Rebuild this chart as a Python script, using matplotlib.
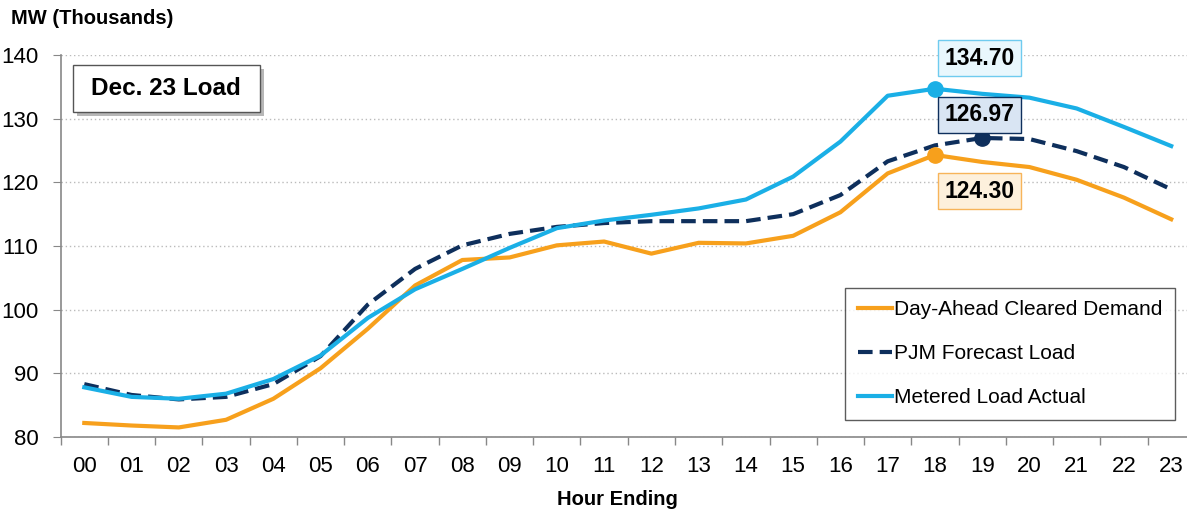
import matplotlib.pyplot as plt
import matplotlib.patheffects as pe
from matplotlib.patches import Rectangle
import numpy as np

plt.rcParams['font.family'] = ['Liberation Sans', 'DejaVu Sans']

hours = ['00', '01', '02', '03', '04', '05', '06', '07', '08', '09', '10', '11',
         '12', '13', '14', '15', '16', '17', '18', '19', '20', '21', '22', '23']

day_ahead = [82.2, 81.8, 81.5, 82.7, 86.0, 90.8, 97.0, 103.8, 107.8, 108.2, 110.1, 110.7,
             108.8, 110.5, 110.4, 111.6, 115.3, 121.4, 124.30, 123.2, 122.4, 120.4, 117.6, 114.2]
pjm_forecast = [88.3, 86.6, 85.9, 86.3, 88.3, 92.7, 100.8, 106.4, 110.1, 111.9, 113.0, 113.6,
                113.9, 113.9, 113.9, 115.0, 118.0, 123.3, 125.8, 126.97, 126.8, 124.9, 122.4, 118.9]
metered = [87.8, 86.3, 86.0, 86.8, 89.1, 92.8, 98.7, 103.2, 106.4, 109.7, 112.8, 114.0,
           114.9, 115.9, 117.3, 120.9, 126.4, 133.6, 134.70, 133.9, 133.3, 131.6, 128.7, 125.7]

c_orange = '#F7A01C'
c_navy = '#0E2F5C'
c_sky = '#1AAFE6'

fig = plt.figure(figsize=(11.87, 5.15), dpi=100)
ax = fig.add_axes([0.0511, 0.1515, 0.9555, 0.7417])

x = np.arange(len(hours))
ax.plot(x, day_ahead, color=c_orange, lw=3, label='Day-Ahead Cleared Demand', zorder=3)
ax.plot(x, pjm_forecast, color=c_navy, lw=3, ls=(0, (3.5, 1.7)), label='PJM Forecast Load', zorder=3)
ax.plot(x, metered, color=c_sky, lw=3, label='Metered Load Actual', zorder=3)

# peak markers
i_da = int(np.argmax(day_ahead))
i_pf = int(np.argmax(pjm_forecast))
i_me = int(np.argmax(metered))
ax.plot(i_da, day_ahead[i_da], 'o', color=c_orange, ms=11, zorder=4)
ax.plot(i_pf, pjm_forecast[i_pf], 'o', color=c_navy, ms=11, zorder=4)
ax.plot(i_me, metered[i_me], 'o', color=c_sky, ms=11, zorder=4)

box_kw = dict(fontsize=16.5, fontweight='bold', ha='center', va='center', zorder=5)
ax.text(18.95, 139.5, f'{metered[i_me]:.2f}',
        bbox=dict(boxstyle='square,pad=0.28', fc='#E9F7FD', ec='#6FCBEF', lw=1), **box_kw)
ax.text(18.95, 130.6, f'{pjm_forecast[i_pf]:.2f}',
        bbox=dict(boxstyle='square,pad=0.28', fc='#D9E5F3', ec=c_navy, lw=1), **box_kw)
ax.text(18.95, 118.6, f'{day_ahead[i_da]:.2f}',
        bbox=dict(boxstyle='square,pad=0.28', fc='#FDF0DC', ec='#F7B45A', lw=1), **box_kw)

# title box with shadow
title_box = Rectangle((-0.24, 131.05), 3.95, 7.38, fc='white', ec='#555555', lw=1, zorder=5,
                      path_effects=[pe.withSimplePatchShadow(offset=(3, -3), shadow_rgbFace='#888888', alpha=0.6)])
ax.add_patch(title_box)
ax.text(1.72, 134.75, 'Dec. 23 Load', fontsize=17.5, fontweight='bold', ha='center', va='center', zorder=6)

ax.set_xlim(-0.5, 23.5)
ax.set_ylim(80, 140)
ax.set_yticks(np.arange(80, 141, 10))
ax.set_xticks(x)
ax.set_xticklabels(hours)
ax.set_xticks(np.arange(-0.5, 24, 1), minor=True)
ax.tick_params(axis='x', which='major', length=0, labelsize=16, pad=14)
ax.tick_params(axis='x', which='minor', length=6, color='#888888', width=1)
ax.tick_params(axis='y', length=6, color='#888888', labelsize=16, pad=10)

ax.grid(axis='y', ls=(0, (1, 2)), color='#BBBBBB', lw=1)
for s in ['top', 'right']:
    ax.spines[s].set_visible(False)
for s in ['left', 'bottom']:
    ax.spines[s].set_color('#888888')
    ax.spines[s].set_linewidth(1.2)

fig.text(0.009, 0.965, 'MW (Thousands)', fontsize=14.5, fontweight='bold', ha='left', va='center')
fig.text(0.52, 0.031, 'Hour Ending', fontsize=14.5, fontweight='bold', ha='center', va='center')

leg = ax.legend(loc='lower right', bbox_to_anchor=(0.9826, 0.0445), fontsize=15, frameon=True,
                fancybox=False, edgecolor='#333333', handlelength=1.65, handletextpad=0.1,
                labelspacing=1.2, borderpad=0.6, borderaxespad=0)
leg.get_frame().set_linewidth(1)

fig.savefig('out.png', dpi=100)
